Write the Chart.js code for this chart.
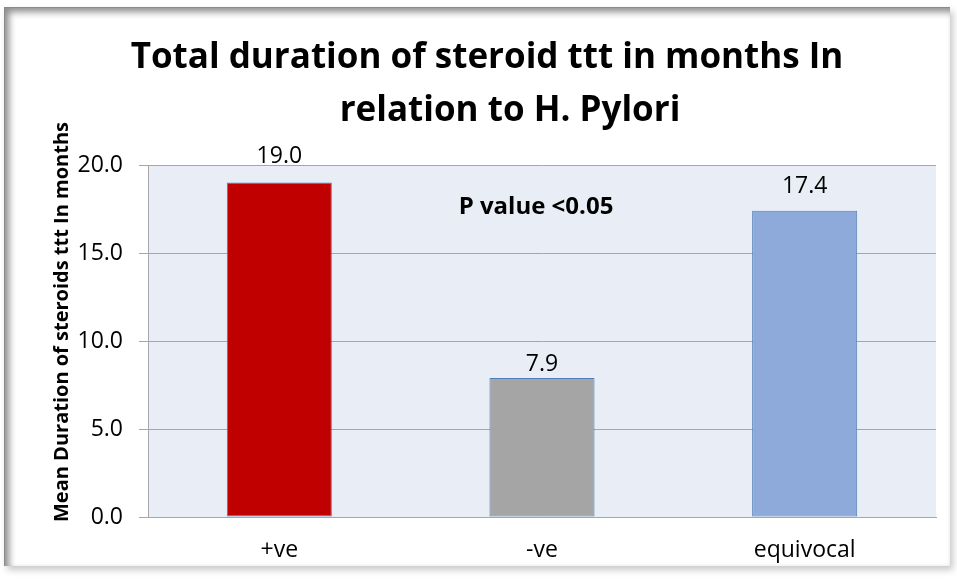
<!DOCTYPE html>
<html lang="en">
<head>
    <meta charset="UTF-8">
    <title>Total duration of steroid ttt</title>
    <script src="https://cdn.jsdelivr.net/npm/chart.js"></script>
    <style>
        body { margin: 0; background: #fff; }
        .wrap { position: relative; width: 957px; height: 579px; overflow: hidden; }
        /* sunken frame round the chart, like the Excel export */
        .frame {
            position: absolute; left: 4px; top: 7px; width: 945px; height: 558px;
            border-top: 1px solid #8a8a8a; border-left: 1px solid #8a8a8a;
            box-shadow: inset 4px 4px 7px rgba(0,0,0,0.45), 3px 4px 7px rgba(0,0,0,0.22);
            pointer-events: none;
        }
    </style>
</head>
<body>
<div class="wrap">
    <canvas id="chart"></canvas>
    <div class="frame"></div>
</div>
<script>
    // values
    const categories = ['+ve', '-ve', 'equivocal'];
    const meanDuration = [19.0, 7.9, 17.4];
    const yTicks = [0, 5, 10, 15, 20];
    const barColors = ['#c00000', '#a5a5a5', '#8eaadb'];
    const titleLines = ['Total duration of steroid ttt in months In', 'relation to H. Pylori'];
    const yTitle = 'Mean Duration of steroids ttt In months';
    const note = 'P value <0.05';

    const FONT = "'Open Sans', 'Noto Sans', sans-serif";

    // plot background, title texts, bar value labels and the p value note
    const extras = {
        id: 'extras',
        beforeDraw(chart) {
            const a = chart.chartArea, ctx = chart.ctx;
            ctx.save();
            ctx.fillStyle = '#e8edf6';
            ctx.fillRect(a.left, a.top, a.right - a.left, a.bottom - a.top);

            ctx.fillStyle = '#000';
            ctx.textAlign = 'center';
            ctx.textBaseline = 'alphabetic';
            ctx.font = 'bold 35px ' + FONT;
            ctx.fillText(titleLines[0], 487, 68);
            ctx.fillText(titleLines[1], 510, 121);

            ctx.translate(62, 322);
            ctx.rotate(-Math.PI / 2);
            ctx.textBaseline = 'middle';
            ctx.font = 'bold 20px ' + FONT;
            ctx.fillText(yTitle, 0, 0);
            ctx.restore();
        },
        afterDatasetsDraw(chart, args, opts) {
            const ctx = chart.ctx;
            const meta = chart.getDatasetMeta(0);
            ctx.save();
            ctx.fillStyle = '#000';
            ctx.textAlign = 'center';
            ctx.textBaseline = 'alphabetic';
            ctx.font = '23px ' + FONT;
            meta.data.forEach((bar, i) => {
                ctx.fillText(meanDuration[i].toFixed(1), bar.x, bar.y - opts.gaps[i]);
            });
            ctx.font = 'bold 24px ' + FONT;
            ctx.textBaseline = 'middle';
            const x = chart.scales.x.getPixelForValue(1) - 6;
            const y = chart.scales.y.getPixelForValue(17.6);
            ctx.fillText(note, x, y);
            ctx.restore();
        }
    };

    new Chart(document.getElementById('chart'), {
        type: 'bar',
        data: {
            labels: categories,
            datasets: [{
                data: meanDuration,
                backgroundColor: barColors,
                borderColor: '#4f7fb8',
                borderWidth: 1,
                borderSkipped: false,
                categoryPercentage: 1.0,
                barPercentage: 0.4
            }]
        },
        options: {
            responsive: true,
            maintainAspectRatio: false,
            animation: false,
            layout: { padding: { left: 0, right: 21, top: 165, bottom: 0 } },
            plugins: {
                legend: { display: false },
                tooltip: { enabled: false },
                title: { display: false },
                extras: { gaps: [20, 7, 18] }
            },
            scales: {
                x: {
                    grid: { display: false, drawTicks: false },
                    border: { display: true, color: '#a6a6a6' },
                    ticks: { color: '#000', padding: 20, font: { family: FONT, size: 23 } },
                    afterFit(s) { s.height = 62; }
                },
                y: {
                    min: 0,
                    max: 20,
                    afterBuildTicks(s) { s.ticks = yTicks.map(v => ({ value: v })); },
                    grid: { color: '#a6a6a6', tickColor: '#a6a6a6', tickLength: 9 },
                    border: { display: true, color: '#a6a6a6' },
                    ticks: {
                        color: '#000',
                        padding: 16,
                        font: { family: FONT, size: 23 },
                        callback: v => v.toFixed(1)
                    },
                    afterFit(s) { s.width = 148; }
                }
            }
        },
        plugins: [extras]
    });
</script>
</body>
</html>
